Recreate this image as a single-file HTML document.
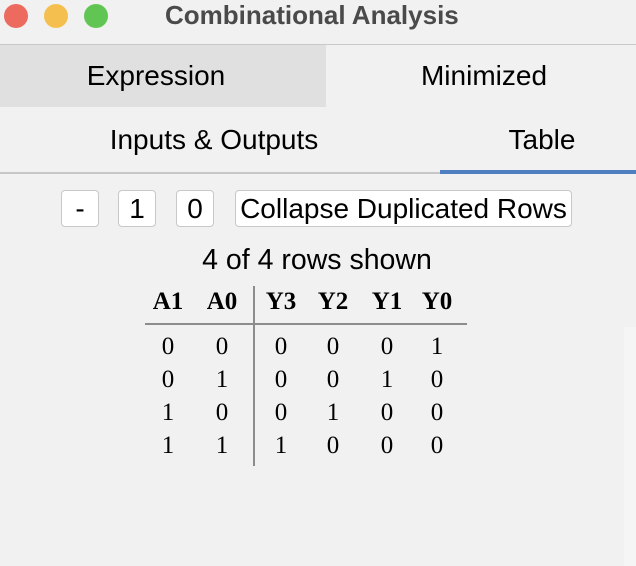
<!DOCTYPE html>
<html><head><meta charset="utf-8"><style>
body{margin:0;width:636px;height:566px;background:#f1f1f1;position:relative;overflow:hidden;font-family:"Liberation Sans",sans-serif;}
.a{position:absolute;white-space:nowrap;}
.dot{position:absolute;top:4px;width:24px;height:24px;border-radius:50%;}
.btn{position:absolute;top:190px;height:37px;background:#fff;border:1.5px solid #c8c8c8;border-radius:4px;box-sizing:border-box;font-size:28px;line-height:35px;text-align:center;color:#000;white-space:nowrap;}
.cell{position:absolute;width:40px;margin-left:-20px;text-align:center;font-family:"Liberation Serif",serif;font-size:25px;color:#000;}
.hd{font-weight:bold;}
.tab{font-size:28px;text-align:center;}
</style></head><body>
<div class="a" style="left:0;top:0;width:636px;height:44px;border-bottom:1px solid #c9c9c9;"></div>
<div class="dot" style="left:4px;background:#ec6a5e;"></div>
<div class="dot" style="left:44px;background:#f4bf4f;"></div>
<div class="dot" style="left:84px;background:#61c554;"></div>
<div class="a" style="left:165px;top:0px;font-size:26px;font-weight:bold;color:#4a4a4a;">Combinational Analysis</div>
<div class="a tab" style="left:0;top:45px;width:326px;height:62px;background:#e0e0e0;line-height:62px;"><span style="position:relative;left:-7px">Expression</span></div>
<div class="a tab" style="left:326px;top:45px;width:310px;height:62px;line-height:62px;"><span style="position:relative;left:3px">Minimized</span></div>
<div class="a tab" style="left:0;top:108px;width:428px;height:64px;line-height:64px;">Inputs &amp; Outputs</div>
<div class="a tab" style="left:440px;top:108px;width:196px;height:64px;line-height:64px;"><span style="position:relative;left:4px">Table</span></div>
<div class="a" style="left:0;top:172px;width:636px;height:2px;background:#c6c6c6;"></div>
<div class="a" style="left:440px;top:170px;width:196px;height:4px;background:#4f7fc0;"></div>
<div class="btn" style="left:61px;width:38px;">-</div>
<div class="btn" style="left:118px;width:38px;">1</div>
<div class="btn" style="left:176px;width:38px;">0</div>
<div class="btn" style="left:235px;width:337px;">Collapse Duplicated Rows</div>
<div class="a" style="left:0;top:244px;width:634px;text-align:center;font-size:28.5px;">4 of 4 rows shown</div>
<div class="a" style="left:624px;top:327px;width:12px;height:239px;background:#f5f5f5;"></div>
<div class="a" style="left:145px;top:323px;width:322px;height:2px;background:#8c8c8c;"></div>
<div class="a" style="left:253px;top:286px;width:2px;height:180px;background:#8c8c8c;"></div>
<div id="tbl"></div>
<script>
const headers=["A1","A0","Y3","Y2","Y1","Y0"];
const rows=[[0,0,0,0,0,1],[0,1,0,0,1,0],[1,0,0,1,0,0],[1,1,1,0,0,0]];
const colX=[168,222,281,333,387,437];
const t=document.getElementById('tbl');
headers.forEach((h,i)=>{const d=document.createElement('div');d.className='cell hd';d.style.left=colX[i]+'px';d.style.top='288px';d.textContent=h;


t.appendChild(d);});
rows.forEach((r,ri)=>r.forEach((v,ci)=>{const d=document.createElement('div');d.className='cell';d.style.left=colX[ci]+'px';d.style.top=(333+ri*33)+'px';d.textContent=v;


t.appendChild(d);}));
</script>
</body></html>
